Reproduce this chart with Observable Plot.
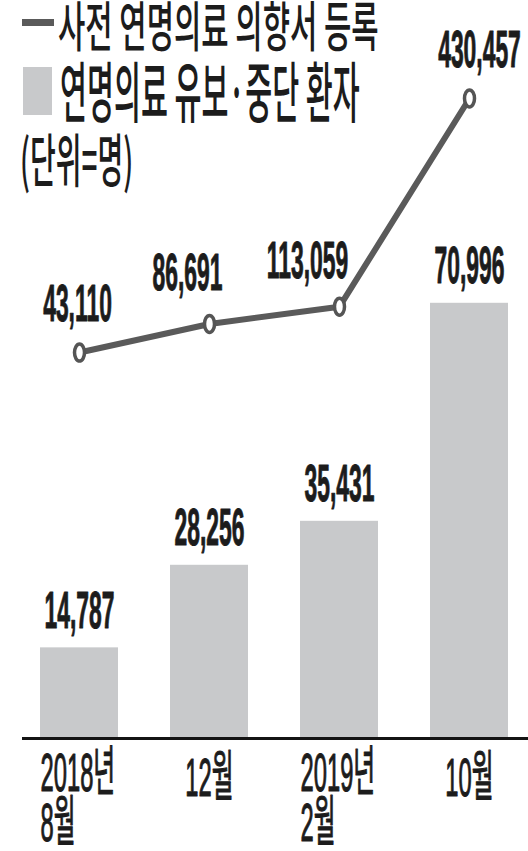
<!DOCTYPE html>
<html>
<head>
<meta charset="utf-8">
<script src="https://cdn.jsdelivr.net/npm/d3@7"></script>
<script src="https://cdn.jsdelivr.net/npm/@observablehq/plot@0.6"></script>
<style>
  html, body { margin: 0; padding: 0; background: #fff; }
  #wrap { position: relative; width: 528px; height: 851px; }
  #chart svg { display: block; }
  .sw { position: absolute; }
  .lg { position: absolute; white-space: nowrap; font-family: "Noto Sans CJK KR", sans-serif;
        color: #1c1c1c; line-height: 1; transform-origin: 0 0; font-weight: 500; }
</style>
</head>
<body>
<div id="wrap">
  <div id="chart"></div>
  <div id="legend"></div>
</div>
<script>
// ---- data ----
const periods = ["2018년\n8월", "12월", "2019년\n2월", "10월"];
const registrations = [43110, 86691, 113059, 430457];   // 사전 연명의료 의향서 등록 (line)
const withdrawals = [14787, 28256, 35431, 70996];        // 연명의료 유보·중단 환자 (bars)
const seriesNames = ["사전 연명의료 의향서 등록", "연명의료 유보·중단 환자"];
const unitLabel = "(단위=명)";

// ---- styles / layout ----
const BAR_COLOR = "#c8c9cb";
const LINE_COLOR = "#5a5a5a";
const TEXT_COLOR = "#1c1c1c";
// secondary (line) axis mapped onto the bar axis
const LINE_ZERO = 58350, LINE_RATIO = 0.107;
const lineLabelNudge = [[-2, -32], [-22, -34], [-32, -29], [10, -31]];

const rows = periods.map((p, i) => ({period: p, reg: registrations[i], stop: withdrawals[i]}));
const lineY = d => LINE_ZERO + d.reg * LINE_RATIO;
const fmt = d3.format(",");

const ellipse = {
  draw(ctx) {
    const rx = 5, ry = 8.5, k = 0.5523;
    ctx.moveTo(rx, 0);
    ctx.bezierCurveTo(rx, ry * k, rx * k, ry, 0, ry);
    ctx.bezierCurveTo(-rx * k, ry, -rx, ry * k, -rx, 0);
    ctx.bezierCurveTo(-rx, -ry * k, -rx * k, -ry, 0, -ry);
    ctx.bezierCurveTo(rx * k, -ry, rx, -ry * k, rx, 0);
    ctx.closePath();
  }
};

const numFont = '"Liberation Sans", Arial, "Noto Sans CJK KR", sans-serif';

const multi = rows.filter(d => d.period.includes("\n"));
const single = rows.filter(d => !d.period.includes("\n"));

const valueStyle = {fontSize: 52, fontWeight: "bold", fill: TEXT_COLOR, stroke: TEXT_COLOR, strokeWidth: 1};
const tickStyle = {fontSize: 54, fill: TEXT_COLOR, stroke: TEXT_COLOR, strokeWidth: 1.2};

const chart = Plot.plot({
  width: 528,
  height: 851,
  marginTop: 2.4,
  marginBottom: 113,
  marginLeft: 27,
  marginRight: 7,
  x: {domain: periods, paddingInner: 0.4, paddingOuter: 0.1, axis: null},
  y: {domain: [0, 120000], axis: null},
  style: {background: "#fff", color: TEXT_COLOR, fontFamily: numFont},
  marks: [
    Plot.barY(rows, {x: "period", y: "stop", fill: BAR_COLOR}),
    Plot.ruleY([0], {stroke: "#141414", strokeWidth: 3, insetLeft: -5, insetRight: -7}),
    Plot.text(rows, {
      x: "period", y: "stop", text: d => fmt(d.stop), dy: -20, lineAnchor: "bottom", ...valueStyle
    }),
    Plot.line(rows, {x: "period", y: lineY, stroke: LINE_COLOR, strokeWidth: 6, strokeLinejoin: "round"}),
    Plot.dot(rows, {x: "period", y: lineY, symbol: ellipse, r: 8, fill: "#fff", stroke: "#555", strokeWidth: 3.5}),
    ...rows.map((r, i) => Plot.text([r], {
      x: "period", y: lineY, text: d => fmt(d.reg),
      dx: lineLabelNudge[i][0], dy: lineLabelNudge[i][1], lineAnchor: "bottom", ...valueStyle
    })),
    Plot.text(multi, {
      x: "period", frameAnchor: "bottom", text: "period", textAnchor: "start", dx: -39, dy: 17,
      lineAnchor: "top", lineHeight: 0.93, ...tickStyle
    }),
    Plot.text(single, {
      x: "period", frameAnchor: "bottom", text: "period", textAnchor: "middle", dy: 57,
      lineAnchor: "bottom", ...tickStyle
    })
  ]
});

// condense the glyphs horizontally (the reference type is very narrow)
function squeeze(svg, size, sx) {
  svg.querySelectorAll(`g[font-size="${size}"] text`).forEach(t => {
    let tr = t.getAttribute("transform") || "";
    if (t.hasAttribute("x") || t.hasAttribute("y")) {
      const x = +t.getAttribute("x") || 0, y = +t.getAttribute("y") || 0;
      t.removeAttribute("x"); t.removeAttribute("y");
      tr = `translate(${x},${y}) ` + tr;
    }
    t.setAttribute("transform", tr + ` scale(${sx},1)`);
  });
}
squeeze(chart, 52, 0.44);
squeeze(chart, 54, 0.44);

document.getElementById("chart").appendChild(chart);

// ---- legend (HTML overlay, top-left) ----
const legend = document.getElementById("legend");
function el(cls, style, text) {
  const d = document.createElement("div");
  d.className = cls;
  Object.assign(d.style, style);
  if (text != null) d.textContent = text;
  legend.appendChild(d);
  return d;
}
el("sw", {left: "22px", top: "19px", width: "32px", height: "7px", background: LINE_COLOR});
el("lg", {left: "58px", top: "-3px", fontSize: "54px", transform: "scaleX(0.55)"}, seriesNames[0]);
el("sw", {left: "23px", top: "67px", width: "29px", height: "48px", background: BAR_COLOR});
el("lg", {left: "60px", top: "55px", fontSize: "66px", transform: "scaleX(0.444)"}, seriesNames[1]);
el("lg", {left: "20px", top: "128px", fontSize: "58px", transform: "scaleX(0.483)"}, unitLabel);
</script>
</body>
</html>
